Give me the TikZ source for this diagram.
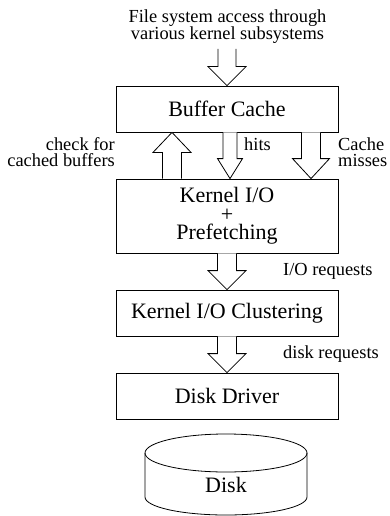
\documentclass[tikz,border=0pt]{standalone}
\usepackage{fontspec}
\setmainfont{Liberation Serif}
\usetikzlibrary{calc}

% hollow block arrow: #1 half shaft, #2 half head, #3 head length (signed), #4 tail, #5 tip
\newcommand{\blockarrow}[5]{%
  \draw[fill=white, line width=0.8pt] let \p1=(#4), \p2=(#5) in
    ({\x1-#1},\y1) -- ({\x1-#1},{\y2+(#3)}) -- ({\x1-#2},{\y2+(#3)}) -- (\x1,\y2)
    -- ({\x1+#2},{\y2+(#3)}) -- ({\x1+#1},{\y2+(#3)}) -- ({\x1+#1},\y1);
}

\begin{document}
\begin{tikzpicture}
      [x=1pt,y=-1pt,
       layer/.style={draw, line width=0.8pt, rectangle, inner sep=0pt, minimum width=222pt, minimum height=46pt, align=center, font=\fontsize{22}{18.5}\selectfont},
       note/.style={inner sep=0pt, font=\fontsize{18.4}{16}\selectfont}]
        \useasboundingbox (0,0) rectangle (389,516);

        \node[note, align=center] (access) at (227.5,26.5) {File system access through \\ various kernel subsystems};
        \coordinate (in) at (227,49);

        \node[layer] (buffer) at (227,109) {Buffer Cache};
        \node[layer, minimum height=74pt] (kio) at (227,216) {Kernel I/O \\ + \\ Prefetching};
        \node[layer] (clus) at (227,313) {Kernel I/O Clustering};
        \node[layer] (driver) at (227,396) {Disk Driver};
        \node[font=\fontsize{22}{22}\selectfont, inner sep=0pt] (disk) at (226,485) {Disk};

        \node[note, align=right, anchor=east] (check) at (115,152.5) {check for \\ cached buffers};
        \node[note, anchor=base west] (hits) at (244,150) {hits};
        \node[note, align=left, anchor=west] (misses) at (338,152.5) {Cache \\ misses};
        \node[note, anchor=base west] (ioreq) at (283,275) {I/O requests};
        \node[note, anchor=base west] (diskreq) at (283,358) {disk requests};

        % disk drum
        \draw[line width=0.8pt] (145,453) -- (145,497) arc[start angle=180, end angle=360, x radius=81pt, y radius=18pt] -- (307,453);
        \draw[line width=0.8pt] (226,453) ellipse [x radius=81pt, y radius=19pt];

      \blockarrow{9pt}{19pt}{19pt}{in}{buffer.north}
      \blockarrow{9.5pt}{19pt}{-20pt}{[xshift=-55pt]kio.north}{[xshift=-55pt]buffer.south}
      \blockarrow{7pt}{12.5pt}{20pt}{[xshift=3pt]buffer.south}{[xshift=3pt]kio.north}
      \blockarrow{9.5pt}{18.5pt}{20pt}{[xshift=84pt]buffer.south}{[xshift=84pt]kio.north}
      \foreach \from/\to in {kio/clus, clus/driver}
        \blockarrow{9.5pt}{19pt}{19pt}{\from.south}{\to.north};
      \end{tikzpicture}
\end{document}
